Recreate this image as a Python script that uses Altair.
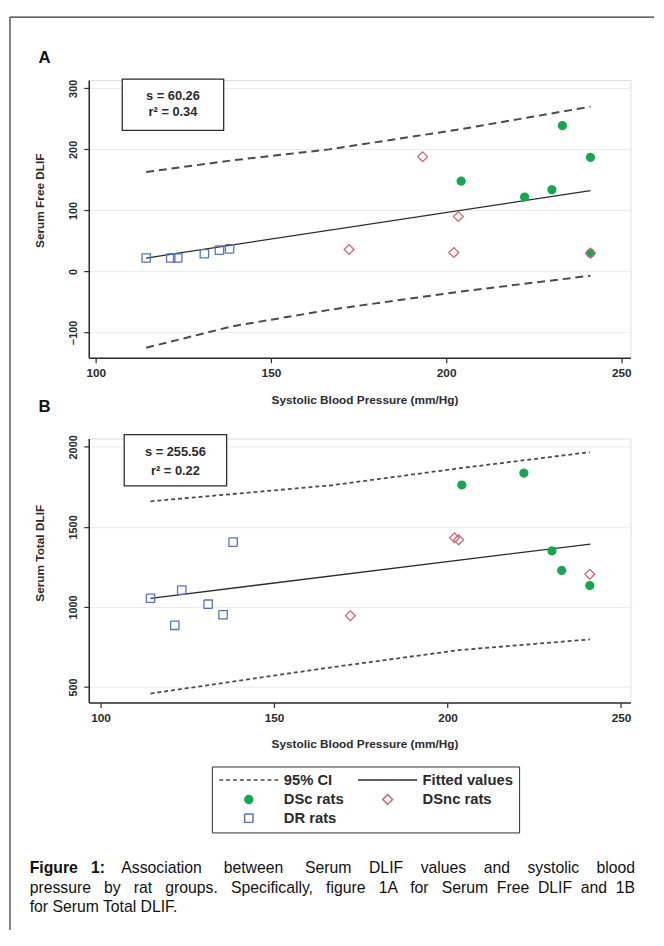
import altair as alt
import pandas as pd

FONT = "Liberation Sans"
GREEN = "#14a650"
RED = "#cf6470"
BLUE = "#5273bd"
GRID = "#e6ecee"
INK = "#2b2b2b"

# ---------------- data ----------------
# DR rats (blue open squares)
dr_sbp = [114.4, 121.4, 123.4, 131.0, 135.3, 138.2]
dr_free = [22, 22, 22, 29, 35, 37]
dr_total = [1054, 885, 1105, 1017, 951, 1405]

# DSc rats (green dots)
dsc_sbp_free = [204.3, 222.4, 230.2, 233.2, 241.2, 241.2]
dsc_free = [148, 122, 134, 239, 187, 30]
dsc_sbp_total = [204.1, 222.0, 230.1, 232.9, 241.0]
dsc_total = [1762, 1836, 1350, 1228, 1134]

# DSnc rats (red open diamonds)
dsnc_sbp_free = [172.3, 193.3, 202.2, 203.5, 241.2]
dsnc_free = [36, 188, 31, 90, 30]
dsnc_sbp_total = [172.0, 202.0, 203.2, 241.0]
dsnc_total = [945, 1432, 1419, 1204]

# fitted values
fit_sbp = [114.4, 241.2]
fit_free = [22, 132.5]
fit_total = [1054, 1393]

# 95% CI
ci_sbp_free = [114.4, 138.9, 166.6, 204.1, 241.2]
ci_free_upper = [163, 182, 200, 233, 270]
ci_free_lower = [-125, -90, -63, -33, -7]
ci_sbp_total = [114.4, 166.6, 203.7, 241.0]
ci_total_upper = [1660, 1760, 1867, 1967]
ci_total_lower = [459, 623, 731, 797]

stats_free = ["s = 60.26", "r² = 0.34"]
stats_total = ["s = 255.56", "r² = 0.22"]

# legend entries (listed column by column: left column, then right column)
groups = ["95% CI", "DSc rats", "DR rats", "Fitted values", "DSnc rats"]
x_ticks = [100, 150, 200, 250]
free_ticks = [-100, 0, 100, 200, 300]
total_ticks = [500, 1000, 1500, 2000]

caption_bold = "Figure 1:"
caption_lines = [
    "Association between Serum DLIF values and systolic blood",
    "pressure by rat groups. Specifically, figure 1A for Serum Free DLIF and 1B",
    "for Serum Total DLIF.",
]

# ---------------- helpers ----------------
LINE = "M-6,0H6"
CIRCLE = "M0.8,0A0.8,0.8,0,1,1,-0.8,0A0.8,0.8,0,1,1,0.8,0Z"
SQUARE = "M-0.85,-0.85H0.85V0.85H-0.85Z"

shape_scale = alt.Scale(domain=groups, range=[LINE, CIRCLE, SQUARE, LINE, "diamond"])
stroke_scale = alt.Scale(domain=groups, range=["#4a4a4a", GREEN, BLUE, INK, RED])
fill_scale = alt.Scale(domain=groups, range=["transparent", GREEN, "transparent", "transparent", "transparent"])
dash_scale = alt.Scale(domain=groups, range=[[4, 3], [1, 0], [1, 0], [1, 0], [1, 0]])


def justify(text, extra):
    """Widen inter-word gaps with non-breaking spaces (justified caption look)."""
    words = text.split(" ")
    gaps = len(words) - 1
    out = words[0]
    for i, w in enumerate(words[1:]):
        n = extra // gaps + (1 if i < extra % gaps else 0)
        out += " " + "\u00a0" * n + w
    return out


def pts(sets):
    rows = []
    for g, xs, ys in sets:
        rows += [{"sbp": x, "val": y, "grp": g} for x, y in zip(xs, ys)]
    return pd.DataFrame(rows)


def band(xs, upper, lower):
    return pd.DataFrame({"sbp": xs + xs, "val": upper + lower,
                         "part": ["upper"] * len(xs) + ["lower"] * len(xs)})


def axis_x():
    return alt.Axis(values=x_ticks, title="Systolic Blood Pressure (mm/Hg)", grid=False, labelFlush=False,
                    labelFont=FONT, labelFontSize=12, labelFontWeight="bold", labelColor=INK, labelPadding=5,
                    tickSize=5, tickColor=INK, tickWidth=1.2, domainColor=INK, domainWidth=1.5,
                    titleFont=FONT, titleFontSize=12, titleFontWeight="bold", titleColor=INK,
                    titleX=280, titleY=42, titleAlign="center", titleBaseline="middle")


def axis_y(vals, title, title_y):
    return alt.Axis(values=vals, title=title, format="d", grid=True, gridColor=GRID, gridWidth=1,
                    labelFlush=False, labelAngle=270, labelAlign="center", labelBaseline="bottom",
                    labelFont=FONT, labelFontSize=11, labelFontWeight="bold", labelColor=INK, labelPadding=5,
                    tickSize=5, tickColor=INK, tickWidth=1.2, domainColor=INK, domainWidth=1.5,
                    titleFont=FONT, titleFontSize=12, titleFontWeight="bold", titleColor=INK,
                    titleAngle=270, titleX=-50, titleY=title_y, titleAlign="center", titleBaseline="middle")


legend_def = alt.Legend(title=None, orient="none", legendX=125, legendY=333, columns=2,
                        columnPadding=11, rowPadding=3, padding=6, strokeColor=INK,
                        symbolSize=100, symbolStrokeWidth=1.5, symbolOffset=24, labelOffset=28,
                        labelFont=FONT, labelFontSize=15, labelFontWeight="bold", labelColor=INK,
                        labelLimit=300)


def one(text):
    return alt.Chart(pd.DataFrame({"t": [text]}))


def panel(pdf, fdf, cdf, xdom, ydom, yvals, ytitle, ytitle_y, dash, dash_w,
          stats, box, stat_y, letter, letter_y, show_legend, height):
    X = alt.X("sbp:Q", scale=alt.Scale(domain=xdom, nice=False, zero=False), axis=axis_x())
    Y = alt.Y("val:Q", scale=alt.Scale(domain=ydom, nice=False, zero=False),
              axis=axis_y(yvals, ytitle, ytitle_y))
    leg = legend_def if show_legend else None
    ci = alt.Chart(cdf).mark_line(color="#4a4a4a", strokeWidth=dash_w, strokeDash=dash).encode(
        x=X, y=Y, detail="part:N")
    fit = alt.Chart(fdf).mark_line(color=INK, strokeWidth=1.3).encode(x=X, y=Y)
    points = alt.Chart(pdf).mark_point(opacity=1, strokeWidth=1.3, size=100).encode(
        x=X, y=Y,
        shape=alt.Shape("grp:N", scale=shape_scale, legend=leg),
        stroke=alt.Stroke("grp:N", scale=stroke_scale, legend=leg),
        fill=alt.Fill("grp:N", scale=fill_scale, legend=leg),
        strokeDash=alt.StrokeDash("grp:N", scale=dash_scale, legend=leg),
    )
    bx = one("box").mark_rect(fill="white", stroke=INK, strokeWidth=1.3).encode(
        x=alt.value(box[0]), x2=alt.value(box[1]), y=alt.value(box[2]), y2=alt.value(box[3]))
    cx = (box[0] + box[1]) / 2
    s1 = one(stats[0]).mark_text(font=FONT, fontSize=13, fontWeight="bold", color=INK,
                                 baseline="middle").encode(
        text="t:N", x=alt.value(cx), y=alt.value(stat_y[0]))
    s2 = one(stats[1]).mark_text(font=FONT, fontSize=13, fontWeight="bold", color=INK,
                                 baseline="middle").encode(
        text="t:N", x=alt.value(cx), y=alt.value(stat_y[1]))
    lt = one(letter).mark_text(font=FONT, fontSize=17, fontWeight="bold", color="#111",
                               baseline="middle").encode(
        text="t:N", x=alt.value(-45), y=alt.value(letter_y))
    return [ci, fit, points, bx, s1, s2, lt], height


pts_free = pts([("DR rats", dr_sbp, dr_free), ("DSc rats", dsc_sbp_free, dsc_free),
                ("DSnc rats", dsnc_sbp_free, dsnc_free)])
pts_total = pts([("DR rats", dr_sbp, dr_total), ("DSc rats", dsc_sbp_total, dsc_total),
                 ("DSnc rats", dsnc_sbp_total, dsnc_total)])
fit_a = pd.DataFrame({"sbp": fit_sbp, "val": fit_free})
fit_b = pd.DataFrame({"sbp": fit_sbp, "val": fit_total})
ci_a = band(ci_sbp_free, ci_free_upper, ci_free_lower)
ci_b = band(ci_sbp_total, ci_total_upper, ci_total_lower)

layers_a, h_a = panel(pts_free, fit_a, ci_a, [98.0, 252.6], [-141.5, 313.6], free_ticks,
                      "Serum Free DLIF", 122, [8, 5], 2.0, stats_free, (34, 137, -1, 51),
                      (16, 32), "A", -22, False, 282)
layers_b, h_b = panel(pts_total, fit_b, ci_b, [96.6, 252.7], [403, 2052], total_ticks,
                      "Serum Total DLIF", 116, [4, 3], 1.8, stats_total, (36, 140, -4, 48),
                      (13.5, 33), "B", -32, True, 268)

# outer frame (top and left edges) drawn in panel A
frame_left = one("frame").mark_rule(color="#333", strokeWidth=1.2).encode(
    x=alt.value(-80), y=alt.value(-64), y2=alt.value(863))
frame_top = one("frame").mark_rule(color="#333", strokeWidth=1.2).encode(
    x=alt.value(-80), x2=alt.value(574), y=alt.value(-64))

# caption drawn in panel B
cap0 = one(justify(caption_bold, 2)).mark_text(font=FONT, fontSize=16, fontWeight="bold", color="#111",
                                               align="left", baseline="middle").encode(
    text="t:N", x=alt.value(-60), y=alt.value(436))
cap1 = one(justify(caption_lines[0], 23)).mark_text(font=FONT, fontSize=16, color="#111", align="left",
                                                    baseline="middle").encode(
    text="t:N", x=alt.value(33), y=alt.value(436))
cap2 = one(justify(caption_lines[1], 20)).mark_text(font=FONT, fontSize=16, color="#111", align="left",
                                                    baseline="middle").encode(
    text="t:N", x=alt.value(-60), y=alt.value(456))
cap3 = one(caption_lines[2]).mark_text(font=FONT, fontSize=16, color="#111", align="left",
                                       baseline="middle").encode(
    text="t:N", x=alt.value(-60), y=alt.value(476))

panel_a = alt.layer(*layers_a, frame_left, frame_top).properties(width=550, height=h_a)
panel_b = alt.layer(*layers_b, cap0, cap1, cap2, cap3).properties(width=550, height=h_b)

chart = alt.vconcat(panel_a, panel_b, spacing=82, bounds="flush").resolve_scale(
    shape="independent", stroke="independent", fill="independent", strokeDash="independent"
).properties(padding=0).configure_view(strokeWidth=0).configure(font=FONT)

chart.save("out.html", embed_options={"renderer": "svg", "actions": False})
